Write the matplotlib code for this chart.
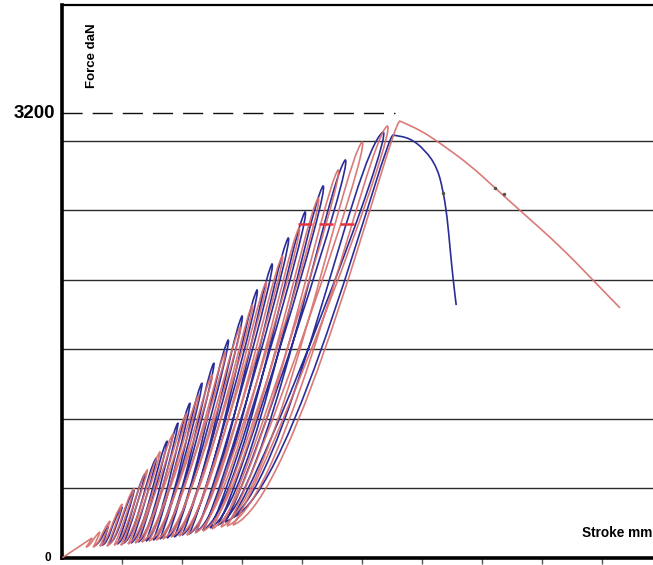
import matplotlib
matplotlib.use("Agg")
import matplotlib.pyplot as plt
from matplotlib.path import Path
from matplotlib.patches import PathPatch

# ---------------- data (stroke in mm, force in daN) ----------------
blue_valley_x = [0.55, 0.67, 0.78, 0.92, 1.03, 1.15, 1.27, 1.40, 1.52, 1.63,
                 1.75, 1.87, 2.00, 2.12, 2.23, 2.35, 2.47, 2.60, 2.72, 2.83]
blue_valley_y = [93, 93, 101, 101, 108, 108, 115, 122, 129, 137,
                 144, 151, 165, 173, 187, 201, 216, 237, 259, 288]
blue_peak_x = [0.77, 1.00, 1.20, 1.38, 1.57, 1.75, 1.93, 2.13, 2.33, 2.53,
               2.77, 3.00, 3.25, 3.50, 3.77, 4.05, 4.35, 4.72, 5.35, 5.52]
blue_peak_y = [230, 367, 489, 604, 719, 841, 971, 1114, 1258, 1402,
               1567, 1740, 1927, 2114, 2301, 2488, 2675, 2862, 3063, 3041]
blue_tail_x = [5.80, 6.05, 6.25, 6.35, 6.42, 6.47, 6.52, 6.57]
blue_tail_y = [3020, 2934, 2811, 2646, 2452, 2215, 1999, 1819]

red_valley_x = [0.0, 0.40, 0.52, 0.63, 0.75, 0.87, 0.98, 1.10, 1.22, 1.33, 1.45,
                1.57, 1.68, 1.82, 1.95, 2.08, 2.22, 2.35, 2.50, 2.65, 2.75, 2.85]
red_valley_y = [0, 79, 79, 86, 86, 93, 93, 101, 108, 115, 122,
                129, 137, 151, 158, 165, 180, 194, 209, 223, 230, 237]
red_peak_x = [0.50, 0.63, 0.80, 1.00, 1.20, 1.42, 1.63, 1.85, 2.07, 2.27, 2.50,
              2.72, 2.97, 3.17, 3.40, 3.67, 3.95, 4.27, 4.60, 5.00, 5.42, 5.63]
red_peak_y = [144, 187, 266, 388, 503, 633, 762, 892, 1035, 1165, 1316,
              1481, 1661, 1819, 1984, 2171, 2373, 2588, 2790, 2991, 3106, 3142]
red_tail_x = [5.97, 6.30, 6.80, 7.22, 7.68, 8.30, 8.88, 9.30]
red_tail_y = [3077, 2984, 2826, 2660, 2481, 2243, 1985, 1798]

ref_force = 3200
ref_stroke_end = 5.55
grid_forces = [500, 1000, 1500, 2000, 2500, 3000]
stroke_ticks = [1, 2, 3, 4, 5, 6, 7, 8, 9]
mark_x = [3.93, 4.87]
mark_y = 2400
tail_mark_x = [6.35, 7.22, 7.36]
tail_mark_y = [2625, 2660, 2620]

BLUE = "#2b2d97"
RED = "#d6706d"

# shape parameters of the cycle branches (style only)
LA, LE = 0.38, 0.06              # loading: gentle start
BETA = 0.8                       # loading: join the envelope near the previous peak
UC, UA, UE = 0.08, 0.22, 0.12    # unloading: rounded top, convex end


def cycle_path(vx, vy, px, py, tx, ty):
    verts = [(vx[0], vy[0])]
    codes = [Path.MOVETO]
    n = len(vx)
    for i in range(n):
        dx = px[i] - vx[i]
        dy = py[i] - vy[i]
        if i == 0 and vx[0] == 0:
            verts.append((px[i], py[i]))
            codes.append(Path.LINETO)
        else:
            if i == 0:
                c2 = (px[i] - 0.3 * dx, py[i] - 0.3 * dy)
            else:
                c2 = (px[i] - BETA * (px[i] - px[i - 1]), py[i] - BETA * (py[i] - py[i - 1]))
            verts += [(vx[i] + LA * dx, vy[i] + LE * dy), c2, (px[i], py[i])]
            codes += [Path.CURVE4] * 3
        if i < n - 1:
            ddx = px[i] - vx[i + 1]
            ddy = py[i] - vy[i + 1]
            verts += [(px[i] + UC * ddx, py[i]),
                      (vx[i + 1] + UA * ddx, vy[i + 1] + UE * ddy),
                      (vx[i + 1], vy[i + 1])]
            codes += [Path.CURVE4] * 3
    # smooth post-peak branch through the tail points (quadratic midpoints)
    pts = [(px[-1], py[-1])] + list(zip(tx, ty))
    mid = lambda p, q: ((p[0] + q[0]) / 2, (p[1] + q[1]) / 2)
    verts.append(mid(pts[0], pts[1]))
    codes.append(Path.LINETO)
    for k in range(1, len(pts) - 1):
        verts += [pts[k], mid(pts[k], pts[k + 1])]
        codes += [Path.CURVE3] * 2
    verts.append(pts[-1])
    codes.append(Path.LINETO)
    return Path(verts, codes)


W, H = 653, 565
fig = plt.figure(figsize=(W / 100, H / 100), dpi=100)
ax = fig.add_axes([62 / W, 7 / H, (W - 62) / W, 553 / H])
ax.set_xlim(0, 591 / 60)
ax.set_ylim(0, 553 * 3200 / 445)

for g in grid_forces:
    ax.axhline(g, color="#2a2a2a", lw=1.0, zorder=1)

ax.plot([0, ref_stroke_end], [ref_force, ref_force], color="#111111", lw=1.0,
        dashes=(14.5, 7.2), zorder=2)

ax.add_patch(PathPatch(cycle_path(blue_valley_x, blue_valley_y, blue_peak_x, blue_peak_y,
                                  blue_tail_x, blue_tail_y),
                       fill=False, edgecolor=BLUE, lw=1.2, zorder=3))
ax.add_patch(PathPatch(cycle_path(red_valley_x, red_valley_y, red_peak_x, red_peak_y,
                                  red_tail_x, red_tail_y),
                       fill=False, edgecolor=RED, lw=1.2, alpha=0.92, zorder=4))

ax.plot(mark_x, [mark_y, mark_y], color="#e8333f", lw=1.8, dashes=(5.6, 2.8), zorder=5)
ax.plot(tail_mark_x, tail_mark_y, ls="none", marker="o", ms=1.5, color="#555544", zorder=6)

for s in ["left", "bottom"]:
    ax.spines[s].set_linewidth(2.6)
ax.spines["top"].set_linewidth(1.6)
ax.spines["right"].set_visible(False)
ax.set_xticks(stroke_ticks)
ax.set_xticklabels([])
ax.set_yticks([])
ax.tick_params(axis="x", direction="out", length=4, width=1, color="#555555")

fam = ["Liberation Sans", "DejaVu Sans"]
ax.text(-0.12, ref_force, "3200", ha="right", va="center", fontsize=13.5,
        fontweight="bold", family=fam, clip_on=False)
ax.text(-0.18, 0, "0", ha="right", va="center", fontsize=8.5,
        fontweight="bold", family=fam, clip_on=False)
ax.text(0.5, 3610, "Force daN", rotation=90, ha="center", va="center", fontsize=9.5,
        fontweight="bold", family=fam)
ax.text(8.66, 180, "Stroke mm", ha="left", va="center", fontsize=9.8,
        fontweight="bold", family=fam, clip_on=False)

fig.savefig("out.png", dpi=100)
